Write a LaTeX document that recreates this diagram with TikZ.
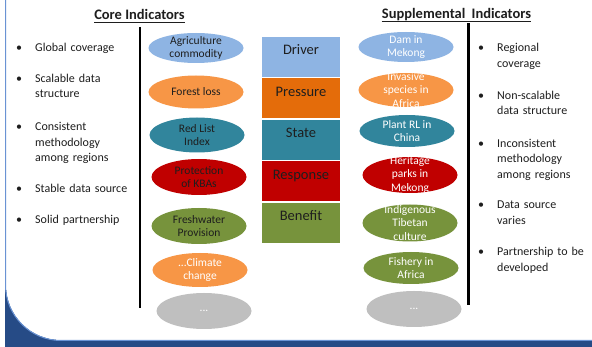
\documentclass[tikz,border=0pt]{standalone}
\usepackage{fontspec}
\setmainfont{Carlito}
\usetikzlibrary{positioning, shapes.geometric}
\definecolor{skyB}{HTML}{8EB4E3}
\definecolor{orgL}{HTML}{F79646}
\definecolor{orgD}{HTML}{E46C0A}
\definecolor{tealC}{HTML}{31859C}
\definecolor{redC}{HTML}{C00000}
\definecolor{grnC}{HTML}{77933C}
\definecolor{grayC}{HTML}{BFBFBF}
\definecolor{slideB}{HTML}{264B86}
\definecolor{rimB}{HTML}{6A93D4}
\definecolor{inkC}{HTML}{1E1E1E}
\tikzset{
  ovl/.style={ ellipse, fill=#1, minimum width=95pt, minimum height=34pt, inner xsep=0pt, inner ysep=-7pt, align=center, font=\fontsize{11.5}{13.5}\selectfont }
}
\tikzset{
  ovlL/.style={ ovl=#1, text=inkC }
}
\tikzset{
  ovlR/.style={ ovl=#1, text=white }
}
\tikzset{
  dpsir/.style={ fill=#1, draw=white, line width=1.5pt, outer sep=0pt, minimum width=79.5pt, text height=14pt, text depth=18.5pt, inner ysep=4.5pt, text=inkC, font=\fontsize{14.5}{17}\selectfont }
}
\tikzset{
  bul/.style={ anchor=base west, inner sep=0pt, text width=95pt, align=left, text=inkC, font=\fontsize{12}{15.5}\selectfont }
}
\tikzset{
  ttl/.style={ anchor=base, inner sep=0pt, text=inkC, font=\bfseries\fontsize{14.5}{17}\selectfont },
  uline/.style={ inkC, line width=1pt },
  sepln/.style={ black, line width=2.6pt }
}
\newcommand{\bitem}{\llap{\textbullet\hspace{13pt}}}

\begin{document}
\begin{tikzpicture}[x=1pt, y=-1pt]
  \useasboundingbox (0,0) rectangle (592,347);

  % slide frame
  \fill[white] (0,0) rectangle (592,347);
  \fill[slideB] (5,0) rectangle (592,347);
  \fill[white, rounded corners=55] (6,-100) -- (6,340) -- (700,340) -- (700,-100) -- cycle;
  \draw[rimB, line width=1pt, rounded corners=55.5] (5.5,-100) -- (5.5,340.5) -- (700,340.5);

  % headings
  \node[ttl] (coreT) at (139.5,19.5) {Core Indicators};
  \node[ttl] (suppT) at (456.5,19) {Supplemental\hspace{3pt} Indicators};
  \draw[uline] ([yshift=-3pt]coreT.base west) -- ([yshift=-3pt]coreT.base east);
  \draw[uline] ([yshift=-3pt]suppT.base west) -- ([yshift=-3pt]suppT.base east);

  % core properties
  \node[bul] (c1) at (35,52) {\bitem Global coverage};
  \node[bul] (c2) at (35,82.5) {\bitem Scalable data\\structure};
  \node[bul] (c3) at (35,131) {\bitem Consistent\\methodology\\among regions};
  \node[bul] (c4) at (35,192.5) {\bitem Stable data source};
  \node[bul] (c5) at (35,223.5) {\bitem Solid partnership};

  % supplemental properties
  \node[bul] (s1) at (497,52) {\bitem Regional\\coverage};
  \node[bul] (s2) at (497,99.5) {\bitem Non-scalable\\data structure};
  \node[bul] (s3) at (497,147.5) {\bitem Inconsistent\\methodology\\among regions};
  \node[bul] (s4) at (497,209) {\bitem Data source\\varies};
  \node[bul] (s5) at (497,256) {\bitem Partnership to be\\developed};

  % separators
  \coordinate (sepLt) at (140,27);
  \coordinate (sepLb) at (140,308);
  \coordinate (sepRt) at (468.5,23);
  \coordinate (sepRb) at (468.5,305);
  \draw[sepln] (sepLt) -- (sepLb);
  \draw[sepln] (sepRt) -- (sepRb);

  % core indicators
  \node[ovlL=skyB, minimum height=30pt] (agri) at (196,48) {Agriculture\\commodity};
  \node[ovlL=orgL, minimum height=33pt] (forest) at (196,92) {Forest loss};
  \node[ovlL=tealC, minimum height=35pt] (redl) at (197,135) {Red List\\Index};
  \node[ovlL=redC, minimum height=36pt] (kba) at (199,177) {Protection\\of KBAs};
  \node[ovlL=grnC, minimum height=36pt] (fresh) at (199,226) {Freshwater\\Provision};
  \node[ovlR=orgL] (clim) at (200,270) {...Climate\\change};
  \node[ovlR=grayC, minimum height=36pt] (moreL) at (204,311) {...};

  % DPSIR column
  \node[dpsir=skyB] (drv) at (301,57) {Driver};
  \node[dpsir=orgD, below=0pt of drv] (prs) {Pressure};
  \node[dpsir=tealC, below=0pt of prs] (stt) {State};
  \node[dpsir=redC, below=0pt of stt] (rsp) {Response};
  \node[dpsir=grnC, below=0pt of rsp] (bnf) {Benefit};

  % supplemental indicators
  \node[ovlR=skyB, minimum height=30pt] (dam) at (406,47) {Dam in\\Mekong};
  \node[ovlR=orgL] (inv) at (406,90) {Invasive\\species in\\Africa};
  \node[ovlR=tealC, minimum height=32pt] (plant) at (407,131) {Plant RL in\\China};
  \node[ovlR=redC, minimum height=36pt] (herit) at (410,175) {Heritage\\parks in\\Mekong};
  \node[ovlR=grnC, minimum height=37pt] (tibet) at (410,223) {Indigenous\\Tibetan\\culture};
  \node[ovlR=grnC, minimum height=32pt] (fish) at (411,268) {Fishery in\\Africa};
  \node[ovlR=grayC, minimum height=36pt] (moreR) at (414,309) {...};
\end{tikzpicture}
\end{document}
